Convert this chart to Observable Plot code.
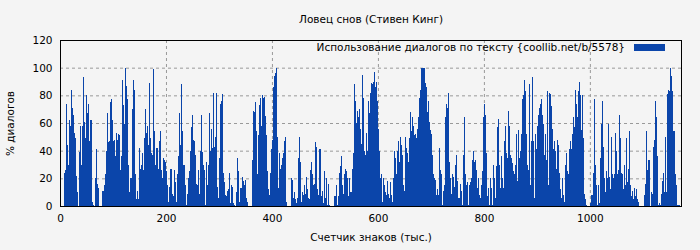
<!DOCTYPE html>
<html><head><meta charset="utf-8">
<script src="https://cdn.jsdelivr.net/npm/d3@7"></script>
<script src="https://cdn.jsdelivr.net/npm/@observablehq/plot@0.6"></script>
<style>
html,body{margin:0;padding:0;background:#f4f4f4;}
#chart svg{display:block;}
</style></head><body><div id="chart"></div>
<script>
const title = "Ловец снов (Стивен Кинг)";
const seriesLabel = "Использование диалогов по тексту {coollib.net/b/5578}";
const xLabel = "Счетчик знаков (тыс.)";
const yLabel = "% диалогов";
const xTicks = [0, 200, 400, 600, 800, 1000];
const yTicks = [0, 20, 40, 60, 80, 100, 120];
const xMax = 1172;
const step = 1.887; // тыс. знаков на один столбец
const barColor = "#0b45aa";

// % диалогов по каждому отрезку текста
const dialogPct = [
  0,0,0,0,24,26,74,44,30,62,58,84,71,66,53,49,22,10,0,39,58,30,58,93,61,49,80,67,74,47,62,62,3,1,0,20,41,16,13,0,0,0,11,11,15,23,40,67,46,47,75,77,
  62,47,48,36,53,48,52,51,26,36,91,73,59,100,87,77,30,10,20,20,70,91,84,23,5,11,5,42,27,30,38,26,49,70,53,58,44,89,49,38,37,99,54,30,42,42,27,47,54,26,20,35,
  33,32,25,15,3,14,27,27,9,7,26,17,3,23,36,67,44,88,54,30,30,15,1,9,20,25,40,57,66,48,47,37,16,15,26,9,40,66,39,30,26,1,32,15,30,67,40,56,42,82,43,50,
  82,14,6,35,74,76,81,24,17,8,7,11,12,24,2,15,14,2,1,0,10,35,25,3,13,13,21,18,15,19,6,3,0,0,0,0,33,69,68,75,54,23,51,73,78,58,80,78,79,65,51,25,
  12,8,24,41,48,86,94,96,100,50,13,38,27,30,35,38,47,50,3,0,0,0,0,20,19,6,10,5,2,6,35,50,32,3,10,8,15,9,21,12,6,5,26,32,23,15,16,46,43,12,8,41,
  41,7,11,2,25,6,20,1,16,1,0,0,0,0,7,7,15,1,7,24,29,36,15,9,23,27,25,20,7,20,10,10,27,38,88,76,60,69,64,70,56,45,95,78,40,37,53,40,76,67,82,89,
  88,90,97,86,90,76,56,40,20,23,3,20,15,10,8,18,9,6,17,8,3,20,40,35,23,40,47,32,50,44,37,15,11,50,42,38,32,49,68,54,64,58,51,52,49,56,64,78,84,100,100,100,
  100,89,86,68,76,61,55,52,37,23,20,19,8,12,8,42,26,23,1,11,15,64,74,71,82,32,20,9,23,21,14,30,37,18,6,6,16,11,1,37,64,23,15,17,1,15,17,20,33,40,32,33,
  26,13,20,8,6,15,25,64,74,66,38,7,13,1,20,13,1,30,20,6,29,57,63,30,13,36,20,13,47,58,38,35,69,58,37,35,31,25,23,30,52,18,55,35,40,52,77,80,91,83,52,30,
  26,88,15,47,93,47,6,52,41,58,66,71,74,77,66,59,37,52,33,83,15,82,81,72,56,41,47,40,27,48,44,24,12,6,20,8,3,30,38,25,23,41,47,41,52,64,57,84,74,64,83,90,
  80,55,80,49,9,5,1,0,0,0,2,8,8,24,77,30,15,1,15,2,35,59,76,43,20,10,25,20,59,21,12,50,23,20,23,53,40,23,26,66,49,24,23,12,30,15,49,17,27,54,15,7,
  11,5,13,7,12,5,3,0,0,0,0,0,8,16,54,26,33,33,0,10,9,43,48,76,64,36,1,2,1,9,18,24,10,50,10,81,84,83,100,94,83,54,54,23,15,1,1,1
];

const bars = dialogPct.map((v, i) => ({x1: i * step, x2: (i + 1) * step, y: v}));
const font = "DejaVu Sans, sans-serif";
const fs = 10.5;

const chart = Plot.plot({
  width: 700,
  height: 250,
  marginLeft: 60,
  marginRight: 19,
  marginTop: 40,
  marginBottom: 44,
  style: {background: "#f4f4f4", fontFamily: font, fontSize: fs + "px", color: "#000", overflow: "visible"},
  x: {domain: [0, xMax], label: null},
  y: {domain: [0, 120], label: null},
  marks: [
    Plot.gridX(xTicks.filter(t => t > 0), {stroke: "#999", strokeOpacity: 1, strokeDasharray: "3,3"}),
    Plot.gridY(yTicks.filter(t => t > 0 && t < 120), {stroke: "#999", strokeOpacity: 1, strokeDasharray: "3,3"}),
    Plot.rectY(bars, {x1: "x1", x2: "x2", y: "y", fill: barColor, inset: 0, shapeRendering: "crispEdges"}),
    Plot.axisX({ticks: xTicks, tickFormat: d => String(d), tickSize: 0, tickPadding: 8, label: null, fontSize: fs}),
    Plot.axisY({ticks: yTicks, tickFormat: d => String(d), tickSize: 0, tickPadding: 8, label: null, fontSize: fs}),
    Plot.frame({stroke: "#000", strokeWidth: 1}),
    Plot.text([title], {frameAnchor: "top", dy: -25, fontSize: fs}),
    Plot.text([xLabel], {frameAnchor: "bottom", dy: 34, fontSize: fs}),
    Plot.text([yLabel], {frameAnchor: "left", dx: -50, rotate: -90, textAnchor: "middle", fontSize: fs})
  ]
});

// legend inside the frame, top-right
const svg = d3.select(chart);
const lg = svg.append("g").attr("font-family", font).attr("font-size", fs);
lg.append("text").attr("x", 625).attr("y", 51).attr("text-anchor", "end").attr("fill", "#000").text(seriesLabel);
lg.append("rect").attr("x", 634).attr("y", 44).attr("width", 31).attr("height", 7).attr("fill", barColor);

document.getElementById("chart").appendChild(chart);
</script>
</body></html>
